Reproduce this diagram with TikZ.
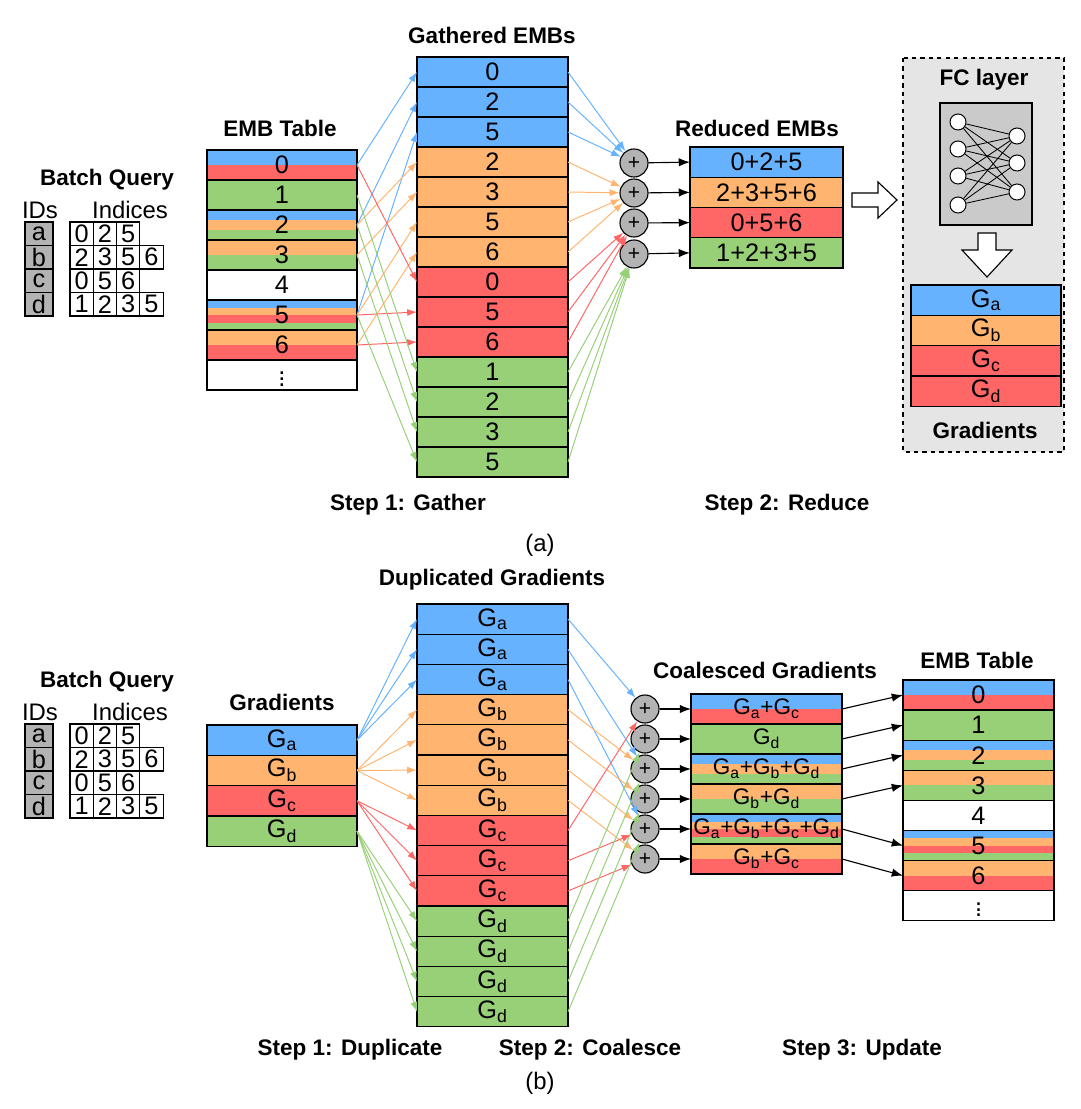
\documentclass[tikz,border=0pt]{standalone}
\usepackage{fontspec}
\setmainfont{Liberation Sans}
\usetikzlibrary{arrows.meta}

\definecolor{embblue}{HTML}{66B2FF}
\definecolor{emborange}{HTML}{FFB570}
\definecolor{embred}{HTML}{FF6666}
\definecolor{embgreen}{HTML}{97D077}
\definecolor{plusgray}{HTML}{B3B3B3}

\tikzset{
  cell/.style={draw, line width=0.9pt, inner sep=0pt, outer sep=0pt, font=\fontsize{18}{20}\selectfont},
  title/.style={font=\fontsize{16}{19}\selectfont\bfseries},
  caption/.style={font=\fontsize{17}{20}\selectfont},
  plus/.style={circle, draw, line width=0.8pt, fill=plusgray, minimum size=0.7cm, inner sep=0pt, font=\fontsize{15}{17}\selectfont},
  garrow/.style={line width=0.7pt, -{Latex[length=7pt,width=5pt]}},
  karrow/.style={line width=0.8pt, -{Latex[length=8pt,width=6pt]}},
  neuron/.style={circle, draw, fill=white, line width=0.7pt, minimum size=0.4cm, inner sep=0pt},
  hollow/.style={draw, fill=white, line width=0.8pt}
}

% striped cell: name, x, ytop, width, height, #stripes, colour list macro, label
\newcommand\stripecell[8]{%
  \foreach \sc [count=\sk from 0] in #7
    \fill[\sc] (#2,{#3+\sk*#5/#6}) rectangle ++(#4,{#5/#6});
  \node[cell, minimum width={#4*0.025cm}, minimum height={#5*0.025cm}] (#1) at ({#2+#4/2},{#3+#5/2}) {#8};
}

% batch query block, top of the ID cells at #1
\newcommand\batchquery[1]{%
  \node[title] at (107,{#1-42}) {Batch Query};
  \node[caption] at (40,{#1-12}) {IDs};
  \node[caption] at (130,{#1-12}) {Indices};
  \foreach \id/\idx [count=\r from 0] in {a/{0,2,5}, b/{2,3,5,6}, c/{0,5,6}, d/{1,2,3,5}} {
    \node[cell, fill=plusgray, minimum width=0.7cm, minimum height=0.5875cm] at (39,{#1+11.75+\r*23.5}) {\id};
    \foreach \v [count=\j from 0] in \idx
      \node[cell, minimum width=0.5825cm, minimum height=0.5875cm] at ({81.6+\j*23.3},{#1+11.75+\r*23.5}) {\v};
  }
}

\newcommand\Gs[1]{G\textsubscript{#1}}

\begin{document}
\begin{tikzpicture}[x=0.025cm, y=-0.025cm]
  \useasboundingbox (0,0) rectangle (1080,1109);

  % ---------------- (a) ----------------
  \batchquery{222}

  \node[title] at (280,128) {EMB Table};
  \foreach \cols/\n/\lab [count=\r from 0] in {
      {embblue,embred}/2/0, {embgreen}/1/1, {embblue,emborange,embgreen}/3/2,
      {emborange,embgreen}/2/3, {white}/1/4, {embblue,emborange,embred,embgreen}/4/5,
      {emborange,embred}/2/6, {white}/1/$\vdots$}
    \stripecell{tA\r}{207}{150+\r*30}{150}{30}{\n}{\cols}{\lab};

  \foreach \p [count=\k] in {163,193,223,254}
    \node[plus] (pA\k) at (634,\p) {+};

  \node[title] at (492,35) {Gathered EMBs};
  \foreach \v/\c/\p [count=\k] in {0/embblue/1, 2/embblue/1, 5/embblue/1,
      2/emborange/2, 3/emborange/2, 5/emborange/2, 6/emborange/2,
      0/embred/3, 5/embred/3, 6/embred/3,
      1/embgreen/4, 2/embgreen/4, 3/embgreen/4, 5/embgreen/4} {
    \stripecell{gA\k}{417}{57+(\k-1)*30}{151}{30}{1}{\c}{\v}
    \draw[garrow, \c] (tA\v.east) -- (gA\k.west);
    \draw[garrow, \c] (gA\k.east) -- (pA\p);
  }

  \node[title] at (757,128) {Reduced EMBs};
  \foreach \c/\lab [count=\k] in {embblue/0+2+5, emborange/2+3+5+6, embred/0+5+6, embgreen/1+2+3+5} {
    \stripecell{rA\k}{690}{147+(\k-1)*30.25}{153}{30.25}{1}{\c}{\lab}
    \draw[karrow] (pA\k) -- (rA\k.west);
  }

  \draw[hollow] (852,193) -- (878,193) -- (878,182) -- (897,200) -- (878,218) -- (878,207) -- (852,207) -- cycle;

  % FC layer box
  \draw[dashed, line width=0.8pt, fill=black!10] (903,58) rectangle (1064,452);
  \node[title] at (984,80) {FC layer};
  \draw[line width=0.9pt, fill=plusgray!70] (940,103) rectangle (1032,225);
  \foreach \y [count=\i] in {122,149,176,205} \node[neuron] (in\i) at (958,\y) {};
  \foreach \y [count=\j] in {136,163,192} \node[neuron] (out\j) at (1017,\y) {};
  \foreach \i in {1,...,4} \foreach \j in {1,2,3} \draw[line width=0.6pt] (in\i) -- (out\j);
  \draw[hollow] (978,233) -- (996,233) -- (996,250) -- (1012,250) -- (987,277) -- (962,250) -- (978,250) -- cycle;
  \foreach \c/\s [count=\k] in {embblue/a, emborange/b, embred/c, embred/d}
    \stripecell{fA\k}{911}{285+(\k-1)*30.3}{150}{30.3}{1}{\c}{\Gs{\s}};
  \node[title] at (985,430) {Gradients};

  \node[title] at (408,505) {Step 1: Gather};
  \node[title] at (787,505) {Step 2: Reduce};
  \node[caption] at (540,545) {(a)};

  % ---------------- (b) ----------------
  \batchquery{724}

  \node[title] at (282,702) {Gradients};
  \foreach \c/\s [count=\k] in {embblue/a, emborange/b, embred/c, embgreen/d}
    \stripecell{sB\k}{207}{725+(\k-1)*30.3}{150}{30.3}{1}{\c}{\Gs{\s}};

  \foreach \p [count=\k] in {709,739,769,799,829,859}
    \node[plus] (qB\k) at (645,\p) {+};

  \node[title] at (492,580) {Duplicated Gradients};
  \foreach \s/\n/\c/\p [count=\k] in {a/1/embblue/1, a/1/embblue/3, a/1/embblue/5,
      b/2/emborange/3, b/2/emborange/4, b/2/emborange/5, b/2/emborange/6,
      c/3/embred/1, c/3/embred/5, c/3/embred/6,
      d/4/embgreen/2, d/4/embgreen/3, d/4/embgreen/4, d/4/embgreen/5} {
    \stripecell{dB\k}{417}{604+(\k-1)*30.2}{151}{30.2}{1}{\c}{\Gs{\s}}
    \draw[garrow, \c] (sB\n.east) -- (dB\k.west);
    \draw[garrow, \c] (dB\k.east) -- (qB\p);
  }

  \node[title] at (977,660) {EMB Table};
  \foreach \cols/\n/\lab [count=\r from 0] in {
      {embblue,embred}/2/0, {embgreen}/1/1, {embblue,emborange,embgreen}/3/2,
      {emborange,embgreen}/2/3, {white}/1/4, {embblue,emborange,embred,embgreen}/4/5,
      {emborange,embred}/2/6, {white}/1/$\vdots$}
    \stripecell{eB\r}{903}{680+\r*30.1}{151}{30.1}{\n}{\cols}{\lab};

  \node[title] at (765,670) {Coalesced Gradients};
  \begin{scope}[cell/.append style={font=\fontsize{16}{18}\selectfont}]
  \foreach \cols/\n/\lab/\t [count=\k] in {
      {embblue,embred}/2/\Gs{a}+\Gs{c}/0, {embgreen}/1/\Gs{d}/1,
      {embblue,emborange,embgreen}/3/\Gs{a}+\Gs{b}+\Gs{d}/2,
      {emborange,embgreen}/2/\Gs{b}+\Gs{d}/3,
      {embblue,emborange,embred,embgreen}/4/\Gs{a}+\Gs{b}+\Gs{c}+\Gs{d}/5,
      {emborange,embred}/2/\Gs{b}+\Gs{c}/6} {
    \stripecell{cB\k}{691}{694+(\k-1)*30}{151}{30}{\n}{\cols}{\lab}
    \draw[karrow] (qB\k) -- (cB\k.west);
    \draw[karrow] (cB\k.east) -- (eB\t.west);
  }
  \end{scope}

  \node[title] at (350,1050) {Step 1: Duplicate};
  \node[title] at (590,1050) {Step 2: Coalesce};
  \node[title] at (862,1050) {Step 3: Update};
  \node[caption] at (540,1083) {(b)};
\end{tikzpicture}
\end{document}
